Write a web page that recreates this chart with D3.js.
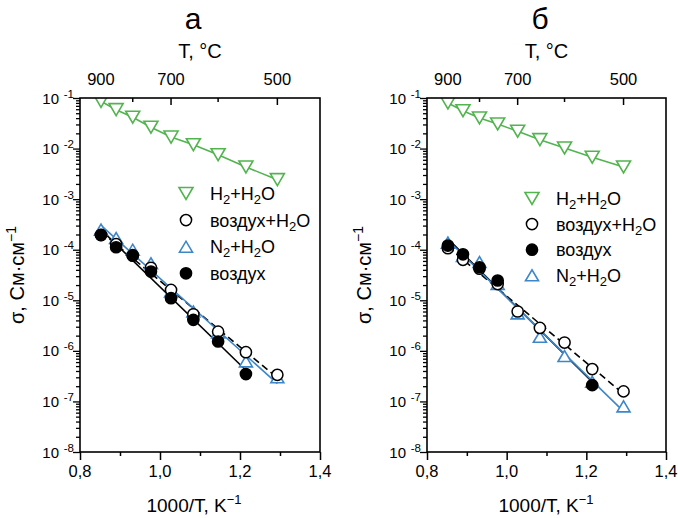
<!DOCTYPE html>
<html>
<head>
<meta charset="utf-8">
<script src="https://cdn.jsdelivr.net/npm/d3@7"></script>
<style>
  body { margin: 0; background: #fff; }
  svg { display: block; }
  text { font-family: "Liberation Sans", Arial, sans-serif; fill: #000; }
</style>
</head>
<body>
<svg id="chart" width="678" height="518"></svg>
<script>
// Inverse temperature 1000/T (K^-1) for 900, 850, ..., 500 °C
const invT = [0.8525, 0.8903, 0.9318, 0.9774, 1.0276, 1.0834, 1.1453, 1.2148, 1.2934];

// Top axis, temperature in °C
const topTicksC = [900, 800, 700, 600, 500];
const topLabelsC = [900, 700, 500];

// Bottom axis
const xMajor = [0.8, 1.0, 1.2, 1.4];
const xMinor = [0.9, 1.1, 1.3];
const xLabels = ["0,8", "1,0", "1,2", "1,4"];

// Left axis decades (powers of ten)
const yDecades = [-1, -2, -3, -4, -5, -6, -7, -8];

// Panel а: conductivity, S/cm
const aH2H2O  = [0.086, 0.0588, 0.0416, 0.0264, 0.0169, 0.0119, 0.00757, 0.00432, 0.00243];
const aAirH2O = [1.95e-4, 1.29e-4, 7.8e-5, 4.4e-5, 1.6e-5, 5.3e-6, 2.4e-6, 9.4e-7, 3.36e-7];
const aN2H2O  = [2.5e-4, 1.7e-4, 1.0e-4, 5.4e-5, 1.5e-5, 6.0e-6, 2.3e-6, 6.2e-7, 3.0e-7];
const aAir    = [1.96e-4, 1.12e-4, 7.6e-5, 3.69e-5, 1.10e-5, 4.1e-6, 1.53e-6, 3.47e-7, null];

// Panel б: conductivity, S/cm
const bH2H2O  = [0.0796, 0.0561, 0.0403, 0.0306, 0.0220, 0.0150, 0.01028, 0.00673, 0.00433];
const bAirH2O = [1.07e-4, 6.3e-5, 4.2e-5, 2.09e-5, 6.0e-6, 2.84e-6, 1.46e-6, 4.36e-7, 1.58e-7];
const bAir    = [1.21e-4, 8.1e-5, 4.5e-5, 2.46e-5, null, null, null, 2.1e-7, null];
const bN2H2O  = [1.38e-4, 7.5e-5, 5.7e-5, 2.1e-5, 5.5e-6, 1.9e-6, 7.9e-7, 2.45e-7, 8.0e-8];

const GREEN = "#52b44f";
const BLUE = "#3d86c8";

const svg = d3.select("#chart");

// Marker shapes
function markerPath(kind) {
  if (kind === "tdown") { const w = 14, h = 12; return `M${-w/2},${-h/2}L${w/2},${-h/2}L0,${h/2}Z`; }
  if (kind === "tup")   { const w = 13, h = 11; return `M${-w/2},${h/2}L${w/2},${h/2}L0,${-h/2}Z`; }
  return null;
}
function drawMarker(g, kind, cx, cy, color) {
  if (kind === "open" || kind === "filled") {
    g.append("circle").attr("cx", cx).attr("cy", cy).attr("r", 5.6)
      .attr("fill", kind === "filled" ? "#000" : "#fff")
      .attr("stroke", "#000").attr("stroke-width", 1.5);
  } else {
    g.append("path").attr("d", markerPath(kind))
      .attr("transform", `translate(${cx},${cy})`)
      .attr("fill", "#fff").attr("stroke", color).attr("stroke-width", 1.6)
      .attr("stroke-linejoin", "miter");
  }
}

// Least-squares line of log10(sigma) vs 1000/T
function arrheniusFit(vals) {
  const pts = invT.map((x, i) => [x, vals[i]]).filter(d => d[1] != null);
  const n = pts.length;
  const mx = d3.mean(pts, d => d[0]);
  const my = d3.mean(pts, d => Math.log10(d[1]));
  let sxy = 0, sxx = 0;
  pts.forEach(d => { sxy += (d[0] - mx) * (Math.log10(d[1]) - my); sxx += (d[0] - mx) ** 2; });
  const k = sxy / sxx, b = my - k * mx;
  const x0 = d3.min(pts, d => d[0]), x1 = d3.max(pts, d => d[0]);
  return [[x0, Math.pow(10, k * x0 + b)], [x1, Math.pow(10, k * x1 + b)]];
}

function addSupText(g, x, y, base, sup, size, supSize, anchor, rise) {
  const t = g.append("text").attr("x", x).attr("y", y)
    .attr("text-anchor", anchor).style("font-size", size + "px");
  t.append("tspan").text(base);
  t.append("tspan").attr("dy", -rise).style("font-size", supSize + "px").text(sup);
  return t;
}

function drawPanel(cfg) {
  const g = svg.append("g");
  const top = 98, bottom = 452;
  const x = d3.scaleLinear().domain([0.8, 1.4]).range([cfg.x0, cfg.x1]);
  const y = d3.scaleLog().domain([1e-8, 1e-1]).range([bottom, top]);
  const cx = (cfg.x0 + cfg.x1) / 2;

  // Title and axis titles
  g.append("text").attr("x", cfg.titleX).attr("y", 29).attr("text-anchor", "middle")
    .style("font-size", "30px").text(cfg.title);
  g.append("text").attr("x", cx).attr("y", 58).attr("text-anchor", "middle")
    .style("font-size", "20px").text("T, °C");
  addSupText(g, cfg.xTitleX, 512, "1000/T, K", "−1", 19, 13, "middle", 8);
  const yl = addSupText(g, 0, 0, "σ, См·см", "−1", 20, 14, "middle", 8);
  yl.attr("transform", `translate(${cfg.x0 - 56},${275}) rotate(-90)`);

  // Bottom axis
  const bx = g.append("g").attr("transform", `translate(0,${bottom})`);
  bx.call(d3.axisBottom(x).tickValues(xMajor).tickSize(8).tickFormat(""));
  bx.append("g").call(d3.axisBottom(x).tickValues(xMinor).tickSize(4).tickFormat(""));
  bx.selectAll(".domain").remove();
  bx.selectAll("line").attr("stroke", "#000").attr("stroke-width", 1.5);
  xMajor.forEach((v, i) => {
    g.append("text").attr("x", x(v)).attr("y", 477).attr("text-anchor", "middle")
      .style("font-size", "16.5px").text(xLabels[i]);
  });

  // Top axis (°C), ticks point inward
  const tx = d3.scaleLinear().domain(x.domain()).range(x.range());
  const tpos = c => tx(1000 / (c + 273.15));
  const ta = g.append("g").attr("transform", `translate(0,${top})`);
  ta.call(d3.axisBottom(d3.scaleIdentity()).tickValues(topTicksC.map(tpos))
    .tickSize(0).tickFormat(""));
  ta.selectAll(".domain").remove();
  topTicksC.forEach(c => {
    const len = topLabelsC.includes(c) ? 7 : 4;
    ta.append("line").attr("x1", tpos(c)).attr("x2", tpos(c)).attr("y1", 0).attr("y2", len)
      .attr("stroke", "#000").attr("stroke-width", 1.5);
  });
  topLabelsC.forEach(c => {
    g.append("text").attr("x", tpos(c)).attr("y", 85).attr("text-anchor", "middle")
      .style("font-size", "16.5px").text(c);
  });

  // Left log axis
  const majorVals = yDecades.map(p => Math.pow(10, p));
  const minorVals = [];
  yDecades.slice(1).forEach(p => { for (let m = 2; m <= 9; m++) minorVals.push(m * Math.pow(10, p)); });
  const ly = g.append("g").attr("transform", `translate(${cfg.x0},0)`);
  ly.call(d3.axisLeft(y).tickValues(majorVals).tickSize(7).tickFormat(""));
  ly.append("g").call(d3.axisLeft(y).tickValues(minorVals).tickSize(4).tickFormat(""));
  ly.selectAll(".domain").remove();
  ly.selectAll("line").attr("stroke", "#000").attr("stroke-width", 1.3);
  yDecades.forEach(p => {
    addSupText(g, cfg.x0 - 21, y(Math.pow(10, p)) + 5.5, "10", "", 15, 11, "end", 0);
    g.append("text").attr("x", cfg.x0 - 6).attr("y", y(Math.pow(10, p)) - 0.5)
      .attr("text-anchor", "end").style("font-size", "11.5px").text(String(p));
  });

  // Plot area
  const plot = g.append("g");
  plot.append("clipPath").attr("id", "clip" + cfg.id).append("rect")
    .attr("x", cfg.x0).attr("y", top).attr("width", cfg.x1 - cfg.x0).attr("height", bottom - top);
  const inner = plot.append("g").attr("clip-path", `url(#clip${cfg.id})`);

  // Lines under the markers
  cfg.series.forEach(s => {
    let pts;
    if (s.connect) pts = invT.map((v, i) => [v, s.values[i]]).filter(d => d[1] != null);
    else pts = arrheniusFit(s.values);
    inner.append("path")
      .attr("d", d3.line().x(d => x(d[0])).y(d => y(d[1]))(pts))
      .attr("fill", "none").attr("stroke", s.color).attr("stroke-width", 1.6)
      .attr("stroke-dasharray", s.dash || null);
  });
  // Markers
  cfg.drawOrder.forEach(idx => {
    const s = cfg.series[idx];
    invT.forEach((v, i) => {
      if (s.values[i] == null) return;
      drawMarker(inner, s.kind, x(v), y(s.values[i]), s.color);
    });
  });

  // Frame
  g.append("rect").attr("x", cfg.x0).attr("y", top).attr("width", cfg.x1 - cfg.x0)
    .attr("height", bottom - top).attr("fill", "none").attr("stroke", "#000").attr("stroke-width", 1.6);

  // Legend
  cfg.legendOrder.forEach((idx, j) => {
    const s = cfg.series[idx];
    const ly0 = cfg.legY + j * cfg.legStep;
    drawMarker(g, s.kind, cfg.legX, ly0, s.color);
    const t = g.append("text").attr("x", cfg.legX + 24).attr("y", ly0 + 6.5).style("font-size", "18px");
    s.label.forEach(part => {
      const sp = t.append("tspan").text(part.t);
      if (part.sub) sp.attr("dy", 4).style("font-size", "13px");
      else if (part.after) sp.attr("dy", -4);
    });
  });
}

const lblH2 = [{t: "H"}, {t: "2", sub: true}, {t: "+H", after: true}, {t: "2", sub: true}, {t: "O", after: true}];
const lblAirH2O = [{t: "воздух+H"}, {t: "2", sub: true}, {t: "O", after: true}];
const lblN2 = [{t: "N"}, {t: "2", sub: true}, {t: "+H", after: true}, {t: "2", sub: true}, {t: "O", after: true}];
const lblAir = [{t: "воздух"}];

drawPanel({
  id: "a", x0: 80, x1: 320, title: "а", titleX: 193, xTitleX: 194,
  series: [
    {values: aH2H2O, kind: "tdown", color: GREEN, connect: true, label: lblH2},
    {values: aAirH2O, kind: "open", color: "#000", dash: "7,4", label: lblAirH2O},
    {values: aN2H2O, kind: "tup", color: BLUE, label: lblN2},
    {values: aAir, kind: "filled", color: "#000", label: lblAir}
  ],
  drawOrder: [0, 2, 1, 3],
  legendOrder: [0, 1, 2, 3],
  legX: 186, legY: 193.5, legStep: 26.6
});

drawPanel({
  id: "b", x0: 427, x1: 666, title: "б", titleX: 540, xTitleX: 546,
  series: [
    {values: bH2H2O, kind: "tdown", color: GREEN, connect: true, label: lblH2},
    {values: bAirH2O, kind: "open", color: "#000", dash: "7,4", label: lblAirH2O},
    {values: bAir, kind: "filled", color: "#000", label: lblAir},
    {values: bN2H2O, kind: "tup", color: BLUE, label: lblN2}
  ],
  drawOrder: [0, 3, 1, 2],
  legendOrder: [0, 1, 2, 3],
  legX: 532, legY: 198.5, legStep: 25.6
});
</script>
</body>
</html>
